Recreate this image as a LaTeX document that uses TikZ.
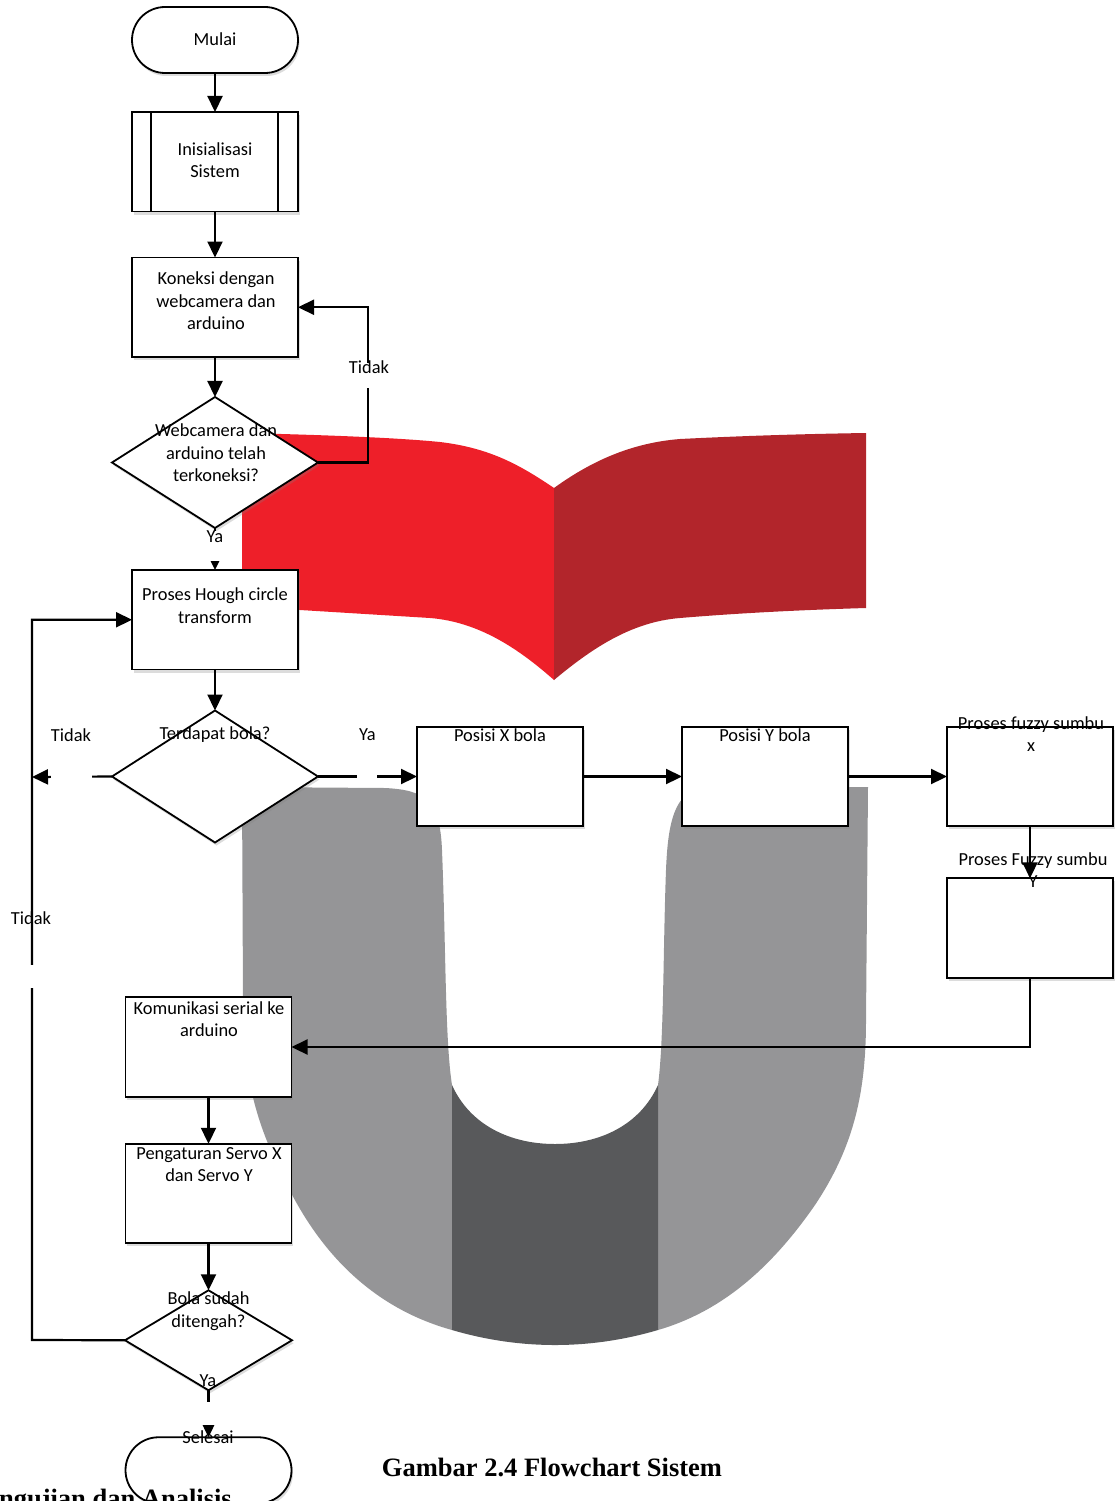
\documentclass[tikz,border=0pt]{standalone}
\usepackage{fontspec}
\setmainfont{Carlito}
\newfontfamily\captionfont{Liberation Serif}
\usetikzlibrary{
  arrows.meta,
  calc,
  positioning,
  shadows,
  shapes.geometric,
  shapes.misc,
}
\definecolor{logored}{HTML}{EE1F29}
\definecolor{logodarkred}{HTML}{B2252B}
\definecolor{logogrey}{HTML}{959597}
\definecolor{logodark}{HTML}{58595B}
\tikzset{
  >={Triangle[length=16pt,width=15pt]},
  base/.style={draw, fill=white, line width=1.8pt, inner sep=0pt, outer sep=0pt,
    drop shadow={shadow xshift=1.5pt, shadow yshift=-3pt, opacity=.28}},
  proc/.style={base, rectangle, minimum width=166pt, minimum height=99.5pt},
  terminal/.style={base, rounded rectangle, minimum width=166pt, minimum height=66pt},
  decision/.style={base, diamond},
  txt/.style={align=center, inner sep=0pt, font=\fontsize{18.4}{22.6}\selectfont},
  gap/.style={fill=white, inner sep=0pt, outer sep=0pt},
  link/.style={line width=2.2pt},
}

\begin{document}
\begin{tikzpicture}[x=1pt, y=-1pt]
      \clip (0,0) rectangle (1115,1501);
      % logo
      \fill [logored] (242,433) .. controls (330,435) and (400,438) .. (440,442) .. controls (490,448) and (520,465) .. (554,488) -- (554,680) .. controls (520,650) and (480,622) .. (430,618) -- (300,610) -- (242,600) -- cycle;
      \fill [logodarkred] (554,488) .. controls (590,462) and (630,443) .. (680,439) .. controls (740,436) and (800,434) .. (866,433) -- (866,608) .. controls (800,610) and (740,613) .. (680,618) .. controls (630,622) and (590,650) .. (554,680) -- cycle;
      \fill [logogrey] (242,787) -- (385,788) .. controls (425,790) and (440,800) .. (442,850) .. controls (446,950) and (445,1040) .. (452,1085) -- (452,1330) .. controls (380,1310) and (320,1260) .. (280,1170) .. controls (250,1110) and (243,1060) .. (243,1000) -- cycle;
      \fill [logogrey] (868,787) -- (700,787) .. controls (675,795) and (668,820) .. (666,870) .. controls (663,950) and (664,1040) .. (658,1085) -- (658,1330) .. controls (720,1312) and (770,1270) .. (815,1205) .. controls (855,1145) and (866,1090) .. (866,1020) -- cycle;
      \fill [logodark] (452,1085) .. controls (470,1125) and (510,1144) .. (555,1144) .. controls (600,1144) and (640,1125) .. (658,1085) -- (658,1330) .. controls (590,1350) and (520,1350) .. (452,1330) -- cycle;
      % flow shapes
      \node [terminal] (mulai) at (215,40) {};
      \node [proc, below=39pt of mulai] (init) {};
      \node [proc, below=46pt of init] (koneksi) {};
      \node [decision, minimum width=206pt, minimum height=131pt, below=40pt of koneksi] (webcam) {};
      \node [proc, below=42pt of webcam] (hough) {};
      \node [decision, minimum width=206pt, minimum height=132pt, below=41pt of hough] (terdapat) {};
      \node [proc] (xbola) at (500,776.5) {};
      \node [proc, right=99pt of xbola] (ybola) {};
      \node [proc, right=99pt of ybola] (fuzzyx) {};
      \node [proc, below=52pt of fuzzyx] (fuzzyy) {};
      \node [proc] (komunikasi) at (208.5,1047) {};
      \node [proc, below=47pt of komunikasi] (servo) {};
      \node [decision, minimum width=167pt, minimum height=100pt, below=47pt of servo] (sudah) {};
      \node [terminal, below=47pt of sudah] (selesai) {};
      \coordinate (leftturn) at (32,1340);
      \coordinate (lefthit) at (32,777);
      % connectors
      \draw [->, link] (mulai) -- (init);
      \draw [->, link] (init) -- (koneksi);
      \draw [->, link] (koneksi) -- (webcam);
      \draw [->, link] (webcam.east) -- ++(50,0) |- (koneksi.east);
      \draw [->, link] (webcam) -- (hough);
      \draw [->, link] (hough) -- (terdapat);
      \draw [->, link] (terdapat.east) -- (xbola);
      \draw [->, link] (terdapat.west) -- (lefthit);
      \draw [->, link] (xbola) -- (ybola);
      \draw [->, link] (ybola) -- (fuzzyx);
      \draw [->, link] (fuzzyx) -- (fuzzyy);
      \draw [->, link] (fuzzyy.south) |- (komunikasi.east);
      \draw [->, link] (komunikasi) -- (servo);
      \draw [->, link] (servo) -- (sudah);
      \draw [->, link] (sudah.west) -- (leftturn) |- (hough.west);
      \draw [->, link] (sudah) -- (selesai);
      % white breaks behind the labels
      \node [gap, minimum width=8pt, minimum height=25pt] (gaptidakr) at (368,375) {};
      \node [gap, minimum width=20pt, minimum height=30pt] (gapyaa) at (215,546) {};
      \node [gap, minimum width=41pt, minimum height=20pt] (gaptidakl) at (71.5,777) {};
      \node [gap, minimum width=20pt, minimum height=8pt] (gapyab) at (367,777) {};
      \node [gap, minimum width=8pt, minimum height=23pt] (gaptidakb) at (32,976.5) {};
      \node [gap, minimum width=20pt, minimum height=23pt] (gapyac) at (208.5,1413.5) {};
      % texts
      \node [txt] (tmulai) at (215,39) {Mulai};
      \node [txt] (tinit) at (215,160) {Inisialisasi\\Sistem};
      \node [txt] (tkoneksi) at (216,301) {Koneksi dengan\\webcamera dan\\arduino};
      \node [txt] (twebcam) at (216,453) {Webcamera dan\\arduino telah\\terkoneksi?};
      \node [txt] (though) at (215,605.5) {Proses Hough circle\\transform};
      \node [txt] (tterdapat) at (215,735) {Terdapat bola?};
      \node [txt] (txbola) at (500,735) {Posisi X bola};
      \node [txt] (tybola) at (765,735) {Posisi Y bola};
      \node [txt] (tfuzzyx) at (1031,734) {Proses fuzzy sumbu\\x};
      \node [txt] (tfuzzyy) at (1033,870) {Proses Fuzzy sumbu\\Y};
      \node [txt] (tkomunikasi) at (209,1019) {Komunikasi serial ke\\arduino};
      \node [txt] (tservo) at (209,1164.5) {Pengaturan Servo X\\dan Servo Y};
      \node [txt] (tsudah) at (208.5,1311) {Bola sudah\\ditengah?};
      \node [txt] (tselesai) at (208,1437) {Selesai};
      \node [txt] (tidakr) at (369,367) {Tidak};
      \node [txt] (yaa) at (215,537) {Ya};
      \node [txt] (tidakl) at (71,735) {Tidak};
      \node [txt] (yab) at (367.5,735) {Ya};
      \node [txt] (tidakb) at (31,918) {Tidak};
      \node [txt] (yac) at (208,1381) {Ya};
      \draw [line width=1.8pt] ([xshift=19pt]init.north west) -- ([xshift=19pt]init.south west)
                               ([xshift=-20pt]init.north east) -- ([xshift=-20pt]init.south east);
      \node [inner sep=0pt, font=\captionfont\bfseries\fontsize{26.5}{30}\selectfont] (caption) at (552,1467) {Gambar 2.4 Flowchart Sistem};
      \node [inner sep=0pt, anchor=east, font=\captionfont\bfseries\fontsize{26.5}{30}\selectfont] (heading) at (232,1501) {ngujian dan Analisis};
    \end{tikzpicture}
\end{document}
